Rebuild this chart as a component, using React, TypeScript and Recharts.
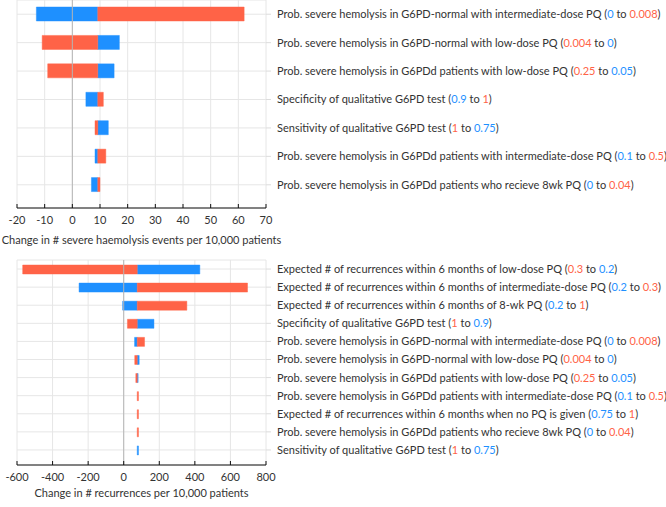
import { BarChart, Bar, XAxis, YAxis, CartesianGrid, ReferenceLine } from 'recharts';

const BLUE = '#1e90ff';
const RED = '#ff6347';
const FONT = 'Lato, "Noto Sans", sans-serif';
const FS = 11;

// severe haemolysis chart
const hemoNames = [
  'Prob. severe hemolysis in G6PD-normal with intermediate-dose PQ',
  'Prob. severe hemolysis in G6PD-normal with low-dose PQ',
  'Prob. severe hemolysis in G6PDd patients with low-dose PQ',
  'Specificity of qualitative G6PD test',
  'Sensitivity of qualitative G6PD test',
  'Prob. severe hemolysis in G6PDd patients with intermediate-dose PQ',
  'Prob. severe hemolysis in G6PDd patients who recieve 8wk PQ',
];
const hemoFrom = ['0', '0.004', '0.25', '0.9', '1', '0.1', '0'];
const hemoTo = ['0.008', '0', '0.05', '1', '0.75', '0.5', '0.04'];
const hemoFromBlue = [true, false, false, true, false, true, true];
const hemoBase = 9.2;
const hemoBlue = [-13.0, 17.0, 15.1, 4.9, 13.0, 8.2, 6.9];
const hemoRed = [62.1, -10.9, -8.9, 11.2, 8.2, 12.1, 10.0];
const hemoTicks = [-20, -10, 0, 10, 20, 30, 40, 50, 60, 70];

// recurrences chart
const recNames = [
  'Expected # of recurrences within 6 months of low-dose PQ',
  'Expected # of recurrences within 6 months of intermediate-dose PQ',
  'Expected # of recurrences within 6 months of 8-wk PQ',
  'Specificity of qualitative G6PD test',
  'Prob. severe hemolysis in G6PD-normal with intermediate-dose PQ',
  'Prob. severe hemolysis in G6PD-normal with low-dose PQ',
  'Prob. severe hemolysis in G6PDd patients with low-dose PQ',
  'Prob. severe hemolysis in G6PDd patients with intermediate-dose PQ',
  'Expected # of recurrences within 6 months when no PQ is given',
  'Prob. severe hemolysis in G6PDd patients who recieve 8wk PQ',
  'Sensitivity of qualitative G6PD test',
];
const recFrom = ['0.3', '0.2', '0.2', '1', '0', '0.004', '0.25', '0.1', '0.75', '0', '1'];
const recTo = ['0.2', '0.3', '1', '0.9', '0.008', '0', '0.05', '0.5', '1', '0.04', '0.75'];
const recFromBlue = [false, true, true, false, true, false, false, true, true, true, false];
const recBase = 76;
const recBlue = [428, -251, -6, 170, 61, 87, 81, 76, 76, 76, 83];
const recRed = [-568, 696, 355, 21, 117, 62, 68, 83, 83, 83, 76];
const recTicks = [-600, -400, -200, 0, 200, 400, 600, 800];

function buildRows(names: string[], from: string[], to: string[], fromBlue: boolean[], base: number, blue: number[], red: number[]) {
  return names.map((name, i) => ({
    name,
    from: from[i],
    to: to[i],
    fromBlue: fromBlue[i],
    blue: [Math.min(base, blue[i]), Math.max(base, blue[i])],
    red: [Math.min(base, red[i]), Math.max(base, red[i])],
  }));
}

const hemoRows = buildRows(hemoNames, hemoFrom, hemoTo, hemoFromBlue, hemoBase, hemoBlue, hemoRed);
const recRows = buildRows(recNames, recFrom, recTo, recFromBlue, recBase, recBlue, recRed);

const LabelTick = (props: any) => {
  const { x, y, payload, rows } = props;
  const idx = payload?.index ?? props.index;
  const r = rows[idx];
  if (!r) return null;
  const c1 = r.fromBlue ? BLUE : RED;
  const c2 = r.fromBlue ? RED : BLUE;
  return (
    <text x={x} y={y} dy="0.36em" fontSize={FS} fill="#333" textAnchor="start">
      {r.name} (<tspan fill={c1}>{r.from}</tspan> to <tspan fill={c2}>{r.to}</tspan>)
    </text>
  );
};

function Tornado({ rows, ticks, domain, title, height, top, barSize, padBottom, axisHeight, labelOffset }: any) {
  return (
    <BarChart
      layout="vertical"
      width={666}
      height={height}
      data={rows}
      margin={{ top, right: 0, bottom: 0, left: 0 }}
      barSize={barSize}
      barGap={-barSize}
    >
      <CartesianGrid stroke="#e6e6e6" yAxisId="r" />
      <XAxis
        type="number"
        domain={domain}
        ticks={ticks}
        interval={0}
        tickSize={-4}
        tickMargin={12}
        stroke="#111"
        tick={{ fill: '#333', fontSize: FS }}
        height={axisHeight}
        label={{ value: title, position: 'insideBottom', offset: labelOffset, fill: '#333', fontSize: FS }}
      />
      <YAxis
        yAxisId="l"
        type="category"
        dataKey="name"
        orientation="left"
        width={17}
        tick={false}
        tickSize={5}
        axisLine={false}
        tickLine={{ stroke: '#dcdcdc' }}
        interval={0}
        padding={{ top: 0, bottom: padBottom }}
      />
      <YAxis
        yAxisId="r"
        type="category"
        dataKey="name"
        orientation="right"
        width={400}
        tickSize={5}
        tickMargin={6}
        axisLine={false}
        tickLine={{ stroke: '#dcdcdc' }}
        interval={0}
        padding={{ top: 0, bottom: padBottom }}
        tick={(p: any) => <LabelTick {...p} rows={rows} />}
      />
      <Bar yAxisId="r" dataKey="blue" fill={BLUE} stroke={BLUE} strokeOpacity={0.45} isAnimationActive={false} />
      <Bar yAxisId="r" dataKey="red" fill={RED} stroke={RED} strokeOpacity={0.45} isAnimationActive={false} />
      <ReferenceLine yAxisId="r" x={0} stroke="#b5b5b5" strokeWidth={1} />
    </BarChart>
  );
}

export default function App() {
  return (
    <div style={{ position: 'absolute', left: 0, top: 0, width: 666, height: 507, fontFamily: FONT, background: '#fff' }}>
      <div style={{ position: 'absolute', left: 0, top: 0 }}>
        <Tornado
          rows={hemoRows}
          ticks={hemoTicks}
          domain={[-20, 70]}
          title="Change in # severe haemolysis events per 10,000 patients"
          height={248}
          top={0}
          barSize={14}
          padBottom={9}
          axisHeight={40}
          labelOffset={4}
        />
      </div>
      <div style={{ position: 'absolute', left: 0, top: 250 }}>
        <Tornado
          rows={recRows}
          ticks={recTicks}
          domain={[-600, 800]}
          title="Change in # recurrences per 10,000 patients"
          height={257}
          top={10}
          barSize={9}
          padBottom={6}
          axisHeight={42}
          labelOffset={10}
        />
      </div>
    </div>
  );
}
